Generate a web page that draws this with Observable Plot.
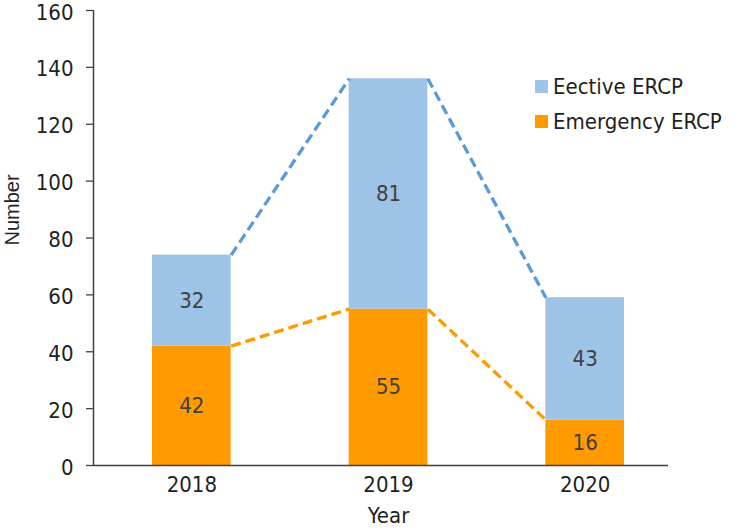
<!DOCTYPE html>
<html>
<head>
<meta charset="utf-8">
<script src="https://cdn.jsdelivr.net/npm/d3@7"></script>
<script src="https://cdn.jsdelivr.net/npm/@observablehq/plot@0.6"></script>
<style>
  html, body { margin: 0; padding: 0; background: #fff; }
  #wrap { position: relative; width: 743px; height: 532px; }
  #legend { position: absolute; left: 535px; top: 69px; font-family: "DejaVu Sans Condensed", "DejaVu Sans", sans-serif; font-stretch: condensed; font-size: 22px; color: #231f20; }
  #legend .item { display: flex; align-items: center; height: 35px; }
  #legend .sw { width: 13px; height: 13px; margin-right: 5px; }
  svg text { font-stretch: condensed; }
</style>
</head>
<body>
<div id="wrap">
  <div id="chart"></div>
  <div id="legend"></div>
</div>
<script>
const years = [2018, 2019, 2020];
const emergency = [42, 55, 16];
const elective = [32, 81, 43];
const seriesNames = ["Eective ERCP", "Emergency ERCP"];
const seriesColors = ["#9dc3e6", "#ff9a00"];
const lineColors = ["#5b9bd5", "#ff9a00"];
const yTicks = [0, 20, 40, 60, 80, 100, 120, 140, 160];
const xLabel = "Year";
const yLabel = "Number";

const half = 0.2;
const xDomain = [years[0] - 0.5, years[years.length - 1] + 0.5];

const emRows = years.map((y, i) => ({year: y, y1: 0, y2: emergency[i], v: emergency[i]}));
const elRows = years.map((y, i) => ({year: y, y1: emergency[i], y2: emergency[i] + elective[i], v: elective[i]}));
const totals = years.map((y, i) => emergency[i] + elective[i]);
const pairs = (tops) => years.slice(0, -1).map((y, i) => ({a: y, b: years[i + 1], ta: tops[i], tb: tops[i + 1]}));

const font = "DejaVu Sans Condensed, DejaVu Sans, sans-serif";

const chart = Plot.plot({
  width: 743,
  height: 532,
  marginLeft: 93,
  marginRight: 60,
  marginTop: 10,
  marginBottom: 67,
  style: {fontFamily: font, fontSize: "22px", color: "#231f20", background: "#fff", overflow: "visible"},
  x: {domain: xDomain, axis: null},
  y: {domain: [0, 160], axis: null},
  marks: [
    Plot.rectY(emRows, {x1: d => d.year - half, x2: d => d.year + half, y1: "y1", y2: "y2", fill: seriesColors[1]}),
    Plot.rectY(elRows, {x1: d => d.year - half, x2: d => d.year + half, y1: "y1", y2: "y2", fill: seriesColors[0]}),
    Plot.link(pairs(totals), {x1: d => d.a + half, y1: "ta", x2: d => d.b - half, y2: "tb", stroke: lineColors[0], strokeWidth: 3.3, strokeDasharray: "10,5"}),
    Plot.link(pairs(emergency), {x1: d => d.a + half, y1: "ta", x2: d => d.b - half, y2: "tb", stroke: lineColors[1], strokeWidth: 3.3, strokeDasharray: "10,5"}),
    Plot.text(emRows, {x: "year", y: d => (d.y1 + d.y2) / 2, text: d => String(d.v), fill: "#404040", fontSize: 22}),
    Plot.text(elRows, {x: "year", y: d => (d.y1 + d.y2) / 2, text: d => String(d.v), fill: "#404040", fontSize: 22}),
    Plot.axisY({ticks: yTicks, tickSize: 7, tickFormat: () => "", label: null, stroke: "#404040", strokeWidth: 1.3}),
    Plot.axisY({ticks: yTicks, tickSize: 0, tickPadding: 20, tickFormat: d => String(d), label: null, fontSize: 22, fill: "#231f20", dy: 2}),
    Plot.axisX({ticks: years, tickSize: 0, tickPadding: 11, tickFormat: d => String(d), label: null, fontSize: 22, fill: "#231f20"}),
    Plot.ruleX([xDomain[0]], {stroke: "#404040", strokeWidth: 1.5}),
    Plot.ruleY([0], {stroke: "#404040", strokeWidth: 1.5, insetRight: 15}),
    Plot.text([xLabel], {frameAnchor: "bottom", dy: 57, fontSize: 22, fill: "#231f20"}),
    Plot.text([yLabel], {frameAnchor: "left", textAnchor: "middle", rotate: -90, dx: -81, dy: -28, fontSize: 20, fill: "#231f20", fontFamily: "Liberation Sans, Arial, sans-serif"})
  ]
});
document.getElementById("chart").appendChild(chart);

const legend = document.getElementById("legend");
seriesNames.forEach((name, i) => {
  const item = document.createElement("div");
  item.className = "item";
  const sw = document.createElement("div");
  sw.className = "sw";
  sw.style.background = seriesColors[i];
  const t = document.createElement("span");
  t.textContent = name;
  item.appendChild(sw);
  item.appendChild(t);
  legend.appendChild(item);
});
</script>
</body>
</html>
